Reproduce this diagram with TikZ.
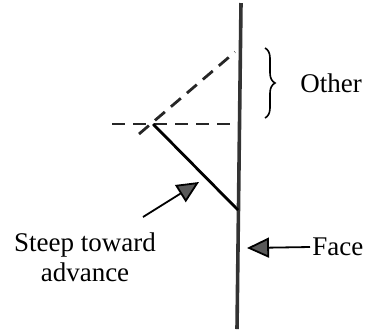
\documentclass[tikz,border=0pt]{standalone}
\usepackage{fontspec}
\setmainfont{Liberation Serif}
\usetikzlibrary{arrows.meta,positioning,decorations.pathreplacing}

\begin{document}
\begin{tikzpicture}[
  x=0.5pt, y=-0.5pt,
  wall/.style={line width=1.8pt, black!80},
  guide/.style={line width=1.4pt, black!85, dash pattern=on 6.5pt off 4pt},
  lbl/.style={font=\fontsize{13.5}{15}\selectfont, inner sep=1pt, align=center},
  >={Triangle[length=11pt, width=10pt, fill=black!65]}
]
\useasboundingbox (0,0) rectangle (369,329);
\coordinate (ftop) at (241,3);
\coordinate (fbot) at (237,329);
\coordinate (v)    at (153,124);
\coordinate (hl)   at (112,124);
\coordinate (hr)   at (235,124);
\coordinate (dl)   at (139,134);
\coordinate (dr)   at (235,52);
\coordinate (sb)   at (238,210);
\coordinate (btop) at (265,48);
\coordinate (bbot) at (265,118);
\coordinate (sa)   at (143,217);
\coordinate (st)   at (199,182);
\coordinate (ft)   at (247,248);

\node[lbl, anchor=west] (other) at (298,83)  {Other};
\node[lbl, anchor=west] (face)  at (310,247) {Face};
\node[lbl]              (steep) at (85,257)  {Steep toward\\advance};

\draw[wall] (ftop) -- (fbot);
\draw[guide] (hl) -- (hr);
\draw[guide] (dl) -- (dr);
\draw[line width=1.4pt] (v) -- (sb);
\draw[line width=0.8pt, decorate, decoration={brace, amplitude=5pt}] (btop) -- (bbot);
\draw[->, line width=0.9pt] (sa) -- (st);
\draw[->, line width=0.9pt] (face.west) -- (ft);
\end{tikzpicture}
\end{document}
